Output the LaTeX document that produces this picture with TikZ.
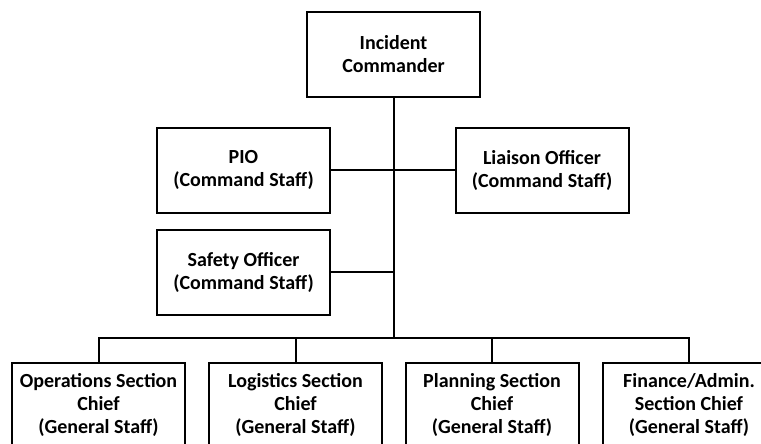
\documentclass[tikz,border=0pt]{standalone}
\usepackage{fontspec}
\setmainfont{Carlito}
\usepackage{tikz}

\begin{document}
\begin{tikzpicture}[x=1pt,y=-1pt,
	staffbox/.style={draw,line width=2pt,minimum width=173pt,minimum height=85pt,inner sep=0pt,align=center,font=\fontsize{20}{23}\selectfont\bfseries},
	link/.style={line width=2pt}]
%	\draw[gray,step=20] (0,0) grid (761,444);
	\useasboundingbox (0,0) rectangle (761,444);
	\clip (0,0) rectangle (761,444);
	
	\node[staffbox] (ic) at (393.5,54.5) {Incident\\Commander};
	\node[staffbox] (pio) at (243.5,170) {PIO\\(Command Staff)};
	\node[staffbox] (liaison) at (542,170) {Liaison Officer\\(Command Staff)};
	\node[staffbox] (safety) at (243.5,272) {Safety Officer\\(Command Staff)};
	
	\node[staffbox] (ops) at (98.5,405) {Operations Section\\Chief\\(General Staff)};
	\node[staffbox] (logi) at (295.5,405) {Logistics Section\\Chief\\(General Staff)};
	\node[staffbox] (plan) at (492,405) {Planning Section\\Chief\\(General Staff)};
	\node[staffbox] (fin) at (689,405) {Finance/Admin.\\Section Chief\\(General Staff)};
	
	\coordinate (bus) at (393.5,338);
	\draw[link] (ic.south) -- (bus);
	\draw[link] (pio.east) -- (liaison.west);
	\draw[link] (safety.east) -- (safety.east -| bus);
	\draw[link] (ops.north) |- (bus) -| (fin.north);
	\draw[link] (logi.north) -- (logi.north |- bus);
	\draw[link] (plan.north) -- (plan.north |- bus);

\end{tikzpicture}
\end{document}
